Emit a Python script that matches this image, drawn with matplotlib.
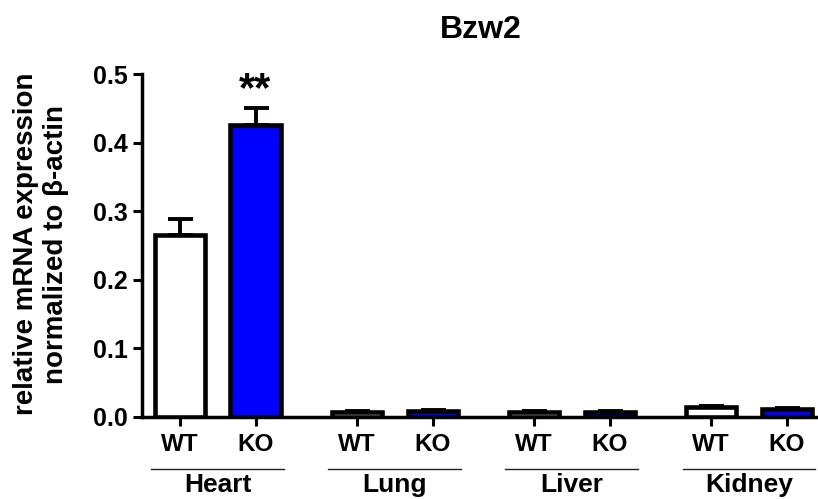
import matplotlib
matplotlib.use("Agg")
import matplotlib.pyplot as plt
import numpy as np

plt.rcParams['font.family'] = ['Liberation Sans', 'DejaVu Sans']

# ---- data ----
tissues = ["Heart", "Lung", "Liver", "Kidney"]
genotypes = ["WT", "KO"]
wt_values = [0.265, 0.0075, 0.0073, 0.0135]
ko_values = [0.425, 0.0088, 0.0070, 0.0118]
wt_sem = [0.024, 0.0012, 0.0012, 0.0015]
ko_sem = [0.025, 0.0015, 0.0012, 0.0010]
yticks = [0.0, 0.1, 0.2, 0.3, 0.4, 0.5]
title = "Bzw2"
ylabel = "relative mRNA expression\nnormalized to \u03b2-actin"
signif = ["**", "", "", ""]

group_step = 7 / 3.0
centers = np.arange(len(tissues)) * group_step
wt_x = centers
ko_x = centers + 1.0

fig = plt.figure(figsize=(8.18, 4.99), dpi=100)
ax = fig.add_axes([0.1732, 0.1649, 1.0 - 0.1732, 0.8517 - 0.1649])

bw = 0.66
lw_bar = 3.3
ax.bar(wt_x, wt_values, width=bw, color="white", edgecolor="black",
       linewidth=lw_bar, zorder=3)
ax.bar(ko_x, ko_values, width=bw, color="#0000FF", edgecolor="black",
       linewidth=lw_bar, zorder=3)

for xs, vals, sems in ((wt_x, wt_values, wt_sem), (ko_x, ko_values, ko_sem)):
    ax.errorbar(xs, vals, yerr=[np.zeros(len(vals)), sems], fmt="none",
                ecolor="black", elinewidth=2.8, capsize=9, capthick=2.8,
                zorder=2)

# significance marks
for i, s in enumerate(signif):
    if s:
        ax.annotate(s, xy=(ko_x[i], ko_values[i] + ko_sem[i]),
                    xytext=(0, -1), textcoords="offset points",
                    ha="center", va="bottom", fontsize=30,
                    fontweight="bold")

ax.set_xlim(-0.5, 8.41)
ax.set_ylim(0, 0.5)
ax.set_yticks(yticks)
ax.set_yticklabels([f"{t:.1f}" for t in yticks])

tick_pos = np.ravel(np.column_stack([wt_x, ko_x]))
tick_lab = genotypes * len(tissues)
ax.set_xticks(tick_pos)
ax.set_xticklabels(tick_lab)

for side in ("top", "right"):
    ax.spines[side].set_visible(False)
for side in ("left", "bottom"):
    ax.spines[side].set_linewidth(2.5)

ax.tick_params(axis="both", width=2.2, length=6.5, color="black")
ax.tick_params(axis="y", labelsize=18, pad=3.5)
ax.tick_params(axis="x", labelsize=17.5, pad=5.5)
for lab in ax.get_xticklabels() + ax.get_yticklabels():
    lab.set_fontweight("bold")

# group labels with lines
trans = ax.get_xaxis_transform()
for i, t in enumerate(tissues):
    mid = (wt_x[i] + ko_x[i]) / 2
    ax.plot([mid - 0.875, mid + 0.875], [-52 / 342.7, -52 / 342.7],
            transform=trans, color="#222222", linewidth=1.0, clip_on=False)
    ax.text(mid, -68.5 / 342.7, t, transform=trans, ha="center",
            va="center", fontsize=19, fontweight="bold")

fig.text(0.5872, 1 - 30 / 499, title, ha="center", va="center",
         fontsize=23, fontweight="bold")
fig.text(41.5 / 818, 1 - 244 / 499, ylabel, ha="center", va="center",
         rotation=90, fontsize=20, fontweight="bold", multialignment="center",
         linespacing=1.2)

fig.savefig("out.png", dpi=100)
